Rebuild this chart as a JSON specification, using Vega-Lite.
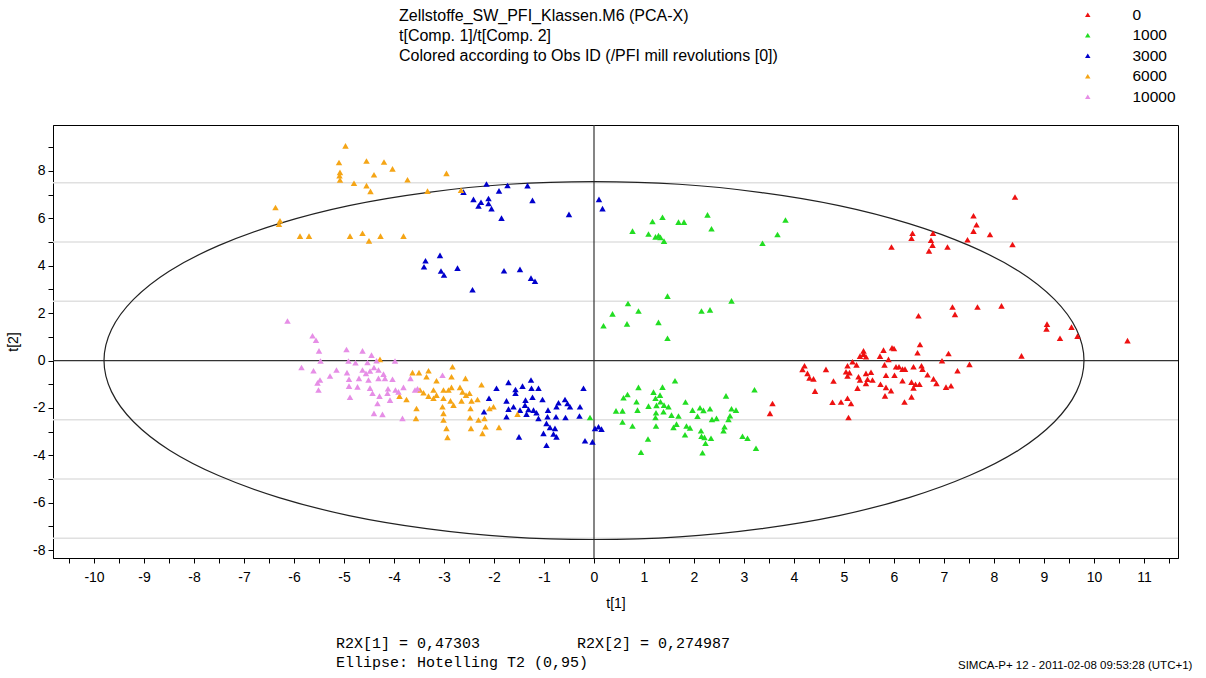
{
  "$schema": "https://vega.github.io/schema/vega-lite/v6.json",
  "autosize": {"type": "none"},
  "padding": {"left": 53, "top": 125, "right": 28, "bottom": 120},
  "width": 1125,
  "height": 433,
  "background": "white",
  "config": {
    "view": {"stroke": "black", "strokeWidth": 1},
    "font": "Liberation Sans",
    "axis": {
      "grid": false,
      "domainColor": "black",
      "tickColor": "black",
      "tickSize": 5,
      "labelFont": "Liberation Sans",
      "labelFontSize": 14,
      "labelColor": "black",
      "labelFlush": false,
      "labelOverlap": false,
      "titleFont": "Liberation Sans",
      "titleFontSize": 14,
      "titleFontWeight": "normal",
      "titleColor": "black",
      "titlePadding": 12
    },
    "axisX": {"labelPadding": 7},
    "axisY": {"labelPadding": 3}
  },
  "title": {
    "text": ["Zellstoffe_SW_PFI_Klassen.M6 (PCA-X)", "t[Comp. 1]/t[Comp. 2]", "Colored according to Obs ID (/PFI mill revolutions [0])"],
    "anchor": "start",
    "frame": "group",
    "dx": 346,
    "offset": -57,
    "font": "Liberation Sans",
    "fontSize": 16,
    "fontWeight": "normal",
    "lineHeight": 20,
    "color": "black"
  },
  "datasets": {
    "pts": [
      {"t1":8.42,"t2":6.90,"rev":"0"},{"t1":7.59,"t2":6.11,"rev":"0"},{"t1":7.65,"t2":5.73,"rev":"0"},{"t1":7.59,"t2":5.46,"rev":"0"},{"t1":7.92,"t2":5.32,"rev":"0"},{"t1":7.47,"t2":5.10,"rev":"0"},{"t1":8.37,"t2":4.90,"rev":"0"},{"t1":6.37,"t2":5.37,"rev":"0"},{"t1":6.35,"t2":5.16,"rev":"0"},{"t1":6.78,"t2":5.37,"rev":"0"},{"t1":6.74,"t2":5.08,"rev":"0"},{"t1":6.77,"t2":4.87,"rev":"0"},{"t1":6.70,"t2":4.63,"rev":"0"},{"t1":7.07,"t2":4.79,"rev":"0"},{"t1":5.95,"t2":4.79,"rev":"0"},{"t1":7.17,"t2":2.26,"rev":"0"},{"t1":7.22,"t2":1.95,"rev":"0"},{"t1":7.67,"t2":2.26,"rev":"0"},{"t1":8.15,"t2":2.31,"rev":"0"},{"t1":6.49,"t2":1.89,"rev":"0"},{"t1":9.06,"t2":1.54,"rev":"0"},{"t1":9.05,"t2":1.34,"rev":"0"},{"t1":9.55,"t2":1.41,"rev":"0"},{"t1":9.67,"t2":1.03,"rev":"0"},{"t1":9.32,"t2":0.94,"rev":"0"},{"t1":10.67,"t2":0.84,"rev":"0"},{"t1":8.55,"t2":0.20,"rev":"0"},
      {"t1":3.57,"t2":-1.81,"rev":"0"},{"t1":3.52,"t2":-2.23,"rev":"0"},{"t1":4.21,"t2":-0.22,"rev":"0"},{"t1":4.17,"t2":-0.37,"rev":"0"},{"t1":4.27,"t2":-0.54,"rev":"0"},{"t1":4.31,"t2":-0.73,"rev":"0"},{"t1":4.39,"t2":-0.77,"rev":"0"},{"t1":4.42,"t2":-1.29,"rev":"0"},{"t1":4.64,"t2":-0.37,"rev":"0"},{"t1":4.79,"t2":-0.86,"rev":"0"},{"t1":4.77,"t2":-1.76,"rev":"0"},{"t1":4.94,"t2":-1.75,"rev":"0"},{"t1":5.07,"t2":-1.59,"rev":"0"},{"t1":5.14,"t2":-1.81,"rev":"0"},{"t1":5.09,"t2":-2.40,"rev":"0"},{"t1":5.07,"t2":-0.22,"rev":"0"},{"t1":5.17,"t2":-0.05,"rev":"0"},{"t1":5.25,"t2":-0.18,"rev":"0"},{"t1":5.04,"t2":-0.47,"rev":"0"},{"t1":5.11,"t2":-0.51,"rev":"0"},{"t1":5.07,"t2":-0.65,"rev":"0"},{"t1":5.29,"t2":-0.68,"rev":"0"},{"t1":5.32,"t2":-0.82,"rev":"0"},{"t1":5.44,"t2":-0.54,"rev":"0"},{"t1":5.54,"t2":-0.49,"rev":"0"},{"t1":5.47,"t2":-0.79,"rev":"0"},{"t1":5.57,"t2":-0.82,"rev":"0"},{"t1":5.44,"t2":-0.96,"rev":"0"},{"t1":5.27,"t2":-1.16,"rev":"0"},{"t1":5.32,"t2":0.19,"rev":"0"},{"t1":5.39,"t2":0.41,"rev":"0"},{"t1":5.44,"t2":0.16,"rev":"0"},{"t1":5.39,"t2":0.27,"rev":"0"},{"t1":5.72,"t2":0.19,"rev":"0"},{"t1":5.79,"t2":0.44,"rev":"0"},{"t1":5.96,"t2":0.54,"rev":"0"},{"t1":6.00,"t2":0.51,"rev":"0"},{"t1":5.89,"t2":0.05,"rev":"0"},{"t1":5.81,"t2":-0.18,"rev":"0"},{"t1":5.84,"t2":-0.62,"rev":"0"},{"t1":5.73,"t2":-1.00,"rev":"0"},{"t1":5.84,"t2":-1.13,"rev":"0"},{"t1":5.94,"t2":-1.27,"rev":"0"},{"t1":5.82,"t2":-1.49,"rev":"0"},{"t1":6.04,"t2":-0.26,"rev":"0"},{"t1":6.10,"t2":-0.26,"rev":"0"},{"t1":6.17,"t2":-0.36,"rev":"0"},{"t1":6.22,"t2":-0.36,"rev":"0"},{"t1":6.01,"t2":-0.62,"rev":"0"},{"t1":6.17,"t2":-0.85,"rev":"0"},{"t1":6.35,"t2":-0.91,"rev":"0"},{"t1":6.39,"t2":-0.26,"rev":"0"},{"t1":6.47,"t2":0.33,"rev":"0"},{"t1":6.52,"t2":0.68,"rev":"0"},{"t1":6.55,"t2":-0.22,"rev":"0"},{"t1":6.57,"t2":-0.36,"rev":"0"},{"t1":6.67,"t2":-0.60,"rev":"0"},{"t1":6.79,"t2":-0.77,"rev":"0"},{"t1":6.85,"t2":-0.96,"rev":"0"},{"t1":6.43,"t2":-1.00,"rev":"0"},{"t1":6.51,"t2":-1.00,"rev":"0"},{"t1":6.39,"t2":-1.15,"rev":"0"},{"t1":6.35,"t2":-1.53,"rev":"0"},{"t1":6.21,"t2":-1.75,"rev":"0"},{"t1":6.96,"t2":-0.01,"rev":"0"},{"t1":7.09,"t2":0.30,"rev":"0"},{"t1":7.27,"t2":-0.43,"rev":"0"},{"t1":7.51,"t2":-0.16,"rev":"0"},{"t1":7.04,"t2":-1.12,"rev":"0"},{"t1":7.14,"t2":-1.06,"rev":"0"},
      {"t1":1.17,"t2":5.87,"rev":"1000"},{"t1":1.37,"t2":6.05,"rev":"1000"},{"t1":0.77,"t2":5.46,"rev":"1000"},{"t1":1.09,"t2":5.34,"rev":"1000"},{"t1":1.23,"t2":5.22,"rev":"1000"},{"t1":1.29,"t2":5.27,"rev":"1000"},{"t1":1.33,"t2":5.20,"rev":"1000"},{"t1":1.40,"t2":5.04,"rev":"1000"},{"t1":1.69,"t2":5.84,"rev":"1000"},{"t1":1.80,"t2":5.84,"rev":"1000"},{"t1":2.27,"t2":6.15,"rev":"1000"},{"t1":2.35,"t2":5.56,"rev":"1000"},{"t1":3.37,"t2":4.95,"rev":"1000"},{"t1":3.67,"t2":5.32,"rev":"1000"},{"t1":3.83,"t2":5.93,"rev":"1000"},{"t1":1.47,"t2":2.72,"rev":"1000"},{"t1":0.68,"t2":2.41,"rev":"1000"},{"t1":0.37,"t2":1.97,"rev":"1000"},{"t1":0.89,"t2":2.09,"rev":"1000"},{"t1":0.19,"t2":1.47,"rev":"1000"},{"t1":0.66,"t2":1.55,"rev":"1000"},{"t1":1.29,"t2":1.61,"rev":"1000"},{"t1":1.47,"t2":0.94,"rev":"1000"},{"t1":2.15,"t2":2.09,"rev":"1000"},{"t1":2.32,"t2":2.14,"rev":"1000"},{"t1":2.75,"t2":2.52,"rev":"1000"},
      {"t1":1.62,"t2":-0.85,"rev":"1000"},{"t1":0.89,"t2":-1.13,"rev":"1000"},{"t1":0.67,"t2":-1.43,"rev":"1000"},{"t1":0.59,"t2":-1.57,"rev":"1000"},{"t1":1.19,"t2":-1.33,"rev":"1000"},{"t1":1.37,"t2":-1.12,"rev":"1000"},{"t1":1.32,"t2":-1.46,"rev":"1000"},{"t1":1.23,"t2":-1.59,"rev":"1000"},{"t1":0.85,"t2":-1.74,"rev":"1000"},{"t1":1.33,"t2":-1.74,"rev":"1000"},{"t1":0.44,"t2":-2.12,"rev":"1000"},{"t1":0.57,"t2":-2.12,"rev":"1000"},{"t1":0.87,"t2":-2.09,"rev":"1000"},{"t1":1.09,"t2":-1.92,"rev":"1000"},{"t1":1.25,"t2":-1.89,"rev":"1000"},{"t1":1.40,"t2":-1.88,"rev":"1000"},{"t1":1.49,"t2":-1.95,"rev":"1000"},{"t1":1.24,"t2":-2.20,"rev":"1000"},{"t1":1.39,"t2":-2.16,"rev":"1000"},{"t1":1.55,"t2":-2.30,"rev":"1000"},{"t1":1.23,"t2":-2.40,"rev":"1000"},{"t1":1.69,"t2":-2.34,"rev":"1000"},{"t1":1.83,"t2":-1.75,"rev":"1000"},{"t1":1.97,"t2":-2.09,"rev":"1000"},{"t1":2.12,"t2":-1.99,"rev":"1000"},{"t1":2.19,"t2":-2.10,"rev":"1000"},{"t1":2.32,"t2":-2.03,"rev":"1000"},{"t1":2.07,"t2":-2.35,"rev":"1000"},{"t1":2.36,"t2":-2.48,"rev":"1000"},{"t1":2.45,"t2":-2.44,"rev":"1000"},{"t1":2.64,"t2":-1.49,"rev":"1000"},{"t1":2.75,"t2":-2.03,"rev":"1000"},{"t1":2.84,"t2":-2.09,"rev":"1000"},{"t1":2.72,"t2":-2.33,"rev":"1000"},{"t1":2.69,"t2":-2.48,"rev":"1000"},{"t1":3.21,"t2":-1.23,"rev":"1000"},{"t1":0.57,"t2":-2.59,"rev":"1000"},{"t1":0.77,"t2":-2.76,"rev":"1000"},{"t1":1.24,"t2":-2.76,"rev":"1000"},{"t1":1.59,"t2":-2.82,"rev":"1000"},{"t1":1.65,"t2":-2.68,"rev":"1000"},{"t1":1.85,"t2":-2.76,"rev":"1000"},{"t1":1.92,"t2":-2.84,"rev":"1000"},{"t1":1.82,"t2":-3.13,"rev":"1000"},{"t1":2.14,"t2":-2.96,"rev":"1000"},{"t1":2.15,"t2":-3.19,"rev":"1000"},{"t1":2.21,"t2":-3.24,"rev":"1000"},{"t1":2.34,"t2":-3.28,"rev":"1000"},{"t1":2.23,"t2":-3.49,"rev":"1000"},{"t1":2.61,"t2":-2.79,"rev":"1000"},{"t1":2.59,"t2":-2.96,"rev":"1000"},{"t1":2.97,"t2":-3.19,"rev":"1000"},{"t1":3.07,"t2":-3.28,"rev":"1000"},{"t1":3.24,"t2":-3.70,"rev":"1000"},{"t1":1.08,"t2":-3.31,"rev":"1000"},{"t1":0.94,"t2":-3.87,"rev":"1000"},{"t1":2.17,"t2":-3.89,"rev":"1000"},{"t1":-0.08,"t2":-2.40,"rev":"1000"},
      {"t1":-2.15,"t2":7.45,"rev":"3000"},{"t1":-2.61,"t2":7.11,"rev":"3000"},{"t1":-1.90,"t2":7.16,"rev":"3000"},{"t1":-1.73,"t2":7.39,"rev":"3000"},{"t1":-1.33,"t2":7.38,"rev":"3000"},{"t1":-2.41,"t2":6.80,"rev":"3000"},{"t1":-2.11,"t2":6.84,"rev":"3000"},{"t1":-2.26,"t2":6.68,"rev":"3000"},{"t1":-2.11,"t2":6.63,"rev":"3000"},{"t1":-2.31,"t2":6.52,"rev":"3000"},{"t1":-2.05,"t2":6.41,"rev":"3000"},{"t1":-1.23,"t2":6.76,"rev":"3000"},{"t1":-1.85,"t2":6.01,"rev":"3000"},{"t1":-0.50,"t2":6.17,"rev":"3000"},{"t1":0.10,"t2":6.80,"rev":"3000"},{"t1":0.17,"t2":6.41,"rev":"3000"},{"t1":-3.37,"t2":4.21,"rev":"3000"},{"t1":-3.40,"t2":3.96,"rev":"3000"},{"t1":-3.08,"t2":4.44,"rev":"3000"},{"t1":-3.06,"t2":3.78,"rev":"3000"},{"t1":-3.00,"t2":3.61,"rev":"3000"},{"t1":-2.73,"t2":3.90,"rev":"3000"},{"t1":-2.43,"t2":2.99,"rev":"3000"},{"t1":-1.80,"t2":3.79,"rev":"3000"},{"t1":-1.48,"t2":3.85,"rev":"3000"},{"t1":-1.26,"t2":3.48,"rev":"3000"},{"t1":-1.18,"t2":3.35,"rev":"3000"},
      {"t1":-1.71,"t2":-0.92,"rev":"3000"},{"t1":-1.95,"t2":-1.17,"rev":"3000"},{"t1":-1.57,"t2":-1.22,"rev":"3000"},{"t1":-1.43,"t2":-1.08,"rev":"3000"},{"t1":-1.26,"t2":-0.82,"rev":"3000"},{"t1":-1.25,"t2":-1.17,"rev":"3000"},{"t1":-1.11,"t2":-1.17,"rev":"3000"},{"t1":-1.57,"t2":-1.38,"rev":"3000"},{"t1":-2.10,"t2":-1.59,"rev":"3000"},{"t1":-1.75,"t2":-1.70,"rev":"3000"},{"t1":-1.37,"t2":-1.67,"rev":"3000"},{"t1":-1.23,"t2":-1.55,"rev":"3000"},{"t1":-1.03,"t2":-1.64,"rev":"3000"},{"t1":-1.38,"t2":-1.88,"rev":"3000"},{"t1":-1.31,"t2":-2.06,"rev":"3000"},{"t1":-1.61,"t2":-1.95,"rev":"3000"},{"t1":-1.71,"t2":-2.05,"rev":"3000"},{"t1":-1.48,"t2":-2.09,"rev":"3000"},{"t1":-1.21,"t2":-2.09,"rev":"3000"},{"t1":-1.15,"t2":-2.20,"rev":"3000"},{"t1":-1.35,"t2":-2.26,"rev":"3000"},{"t1":-1.75,"t2":-2.37,"rev":"3000"},{"t1":-2.20,"t2":-2.16,"rev":"3000"},{"t1":-1.11,"t2":-2.44,"rev":"3000"},{"t1":-0.92,"t2":-2.09,"rev":"3000"},{"t1":-0.75,"t2":-1.95,"rev":"3000"},{"t1":-0.58,"t2":-1.64,"rev":"3000"},{"t1":-0.53,"t2":-1.81,"rev":"3000"},{"t1":-0.71,"t2":-1.78,"rev":"3000"},{"t1":-0.48,"t2":-1.95,"rev":"3000"},{"t1":-0.93,"t2":-2.37,"rev":"3000"},{"t1":-0.76,"t2":-2.37,"rev":"3000"},{"t1":-0.57,"t2":-2.40,"rev":"3000"},{"t1":-0.29,"t2":-2.34,"rev":"3000"},{"t1":-0.28,"t2":-1.95,"rev":"3000"},{"t1":-0.21,"t2":-1.17,"rev":"3000"},{"t1":-0.95,"t2":-2.65,"rev":"3000"},{"t1":-0.88,"t2":-2.82,"rev":"3000"},{"t1":-0.78,"t2":-2.86,"rev":"3000"},{"t1":-1.01,"t2":-3.07,"rev":"3000"},{"t1":-0.81,"t2":-3.10,"rev":"3000"},{"t1":-0.75,"t2":-3.22,"rev":"3000"},{"t1":-0.95,"t2":-3.57,"rev":"3000"},{"t1":-1.50,"t2":-3.22,"rev":"3000"},{"t1":-0.18,"t2":-3.38,"rev":"3000"},{"t1":-0.03,"t2":-3.43,"rev":"3000"},{"t1":0.02,"t2":-2.86,"rev":"3000"},{"t1":0.09,"t2":-2.79,"rev":"3000"},{"t1":0.15,"t2":-2.89,"rev":"3000"},
      {"t1":-4.97,"t2":9.06,"rev":"6000"},{"t1":-5.10,"t2":8.36,"rev":"6000"},{"t1":-4.55,"t2":8.42,"rev":"6000"},{"t1":-4.20,"t2":8.38,"rev":"6000"},{"t1":-4.03,"t2":8.09,"rev":"6000"},{"t1":-5.08,"t2":7.94,"rev":"6000"},{"t1":-5.09,"t2":7.80,"rev":"6000"},{"t1":-4.40,"t2":7.84,"rev":"6000"},{"t1":-5.08,"t2":7.62,"rev":"6000"},{"t1":-2.95,"t2":7.90,"rev":"6000"},{"t1":-3.73,"t2":7.63,"rev":"6000"},{"t1":-4.80,"t2":7.48,"rev":"6000"},{"t1":-4.55,"t2":7.38,"rev":"6000"},{"t1":-4.47,"t2":7.14,"rev":"6000"},{"t1":-3.33,"t2":7.15,"rev":"6000"},{"t1":-2.66,"t2":7.19,"rev":"6000"},{"t1":-6.37,"t2":6.46,"rev":"6000"},{"t1":-6.28,"t2":5.90,"rev":"6000"},{"t1":-6.30,"t2":5.75,"rev":"6000"},{"t1":-5.88,"t2":5.25,"rev":"6000"},{"t1":-5.70,"t2":5.25,"rev":"6000"},{"t1":-4.88,"t2":5.25,"rev":"6000"},{"t1":-4.63,"t2":5.37,"rev":"6000"},{"t1":-4.50,"t2":5.05,"rev":"6000"},{"t1":-4.27,"t2":5.25,"rev":"6000"},{"t1":-3.81,"t2":5.25,"rev":"6000"},
      {"t1":-4.28,"t2":0.05,"rev":"6000"},{"t1":-3.63,"t2":-0.51,"rev":"6000"},{"t1":-3.50,"t2":-0.51,"rev":"6000"},{"t1":-3.31,"t2":-0.43,"rev":"6000"},{"t1":-2.83,"t2":-0.26,"rev":"6000"},{"t1":-3.35,"t2":-0.68,"rev":"6000"},{"t1":-3.15,"t2":-0.85,"rev":"6000"},{"t1":-2.85,"t2":-0.68,"rev":"6000"},{"t1":-2.57,"t2":-0.75,"rev":"6000"},{"t1":-2.25,"t2":-1.02,"rev":"6000"},{"t1":-3.48,"t2":-1.24,"rev":"6000"},{"t1":-3.41,"t2":-1.36,"rev":"6000"},{"t1":-3.31,"t2":-1.50,"rev":"6000"},{"t1":-3.21,"t2":-1.24,"rev":"6000"},{"t1":-3.15,"t2":-1.46,"rev":"6000"},{"t1":-3.01,"t2":-1.24,"rev":"6000"},{"t1":-2.91,"t2":-1.24,"rev":"6000"},{"t1":-2.85,"t2":-1.13,"rev":"6000"},{"t1":-2.68,"t2":-1.13,"rev":"6000"},{"t1":-2.63,"t2":-1.32,"rev":"6000"},{"t1":-2.56,"t2":-1.46,"rev":"6000"},{"t1":-2.49,"t2":-1.38,"rev":"6000"},{"t1":-3.21,"t2":-1.59,"rev":"6000"},{"t1":-3.01,"t2":-1.59,"rev":"6000"},{"t1":-2.87,"t2":-1.70,"rev":"6000"},{"t1":-2.65,"t2":-1.70,"rev":"6000"},{"t1":-2.45,"t2":-1.70,"rev":"6000"},{"t1":-2.81,"t2":-1.88,"rev":"6000"},{"t1":-2.33,"t2":-1.64,"rev":"6000"},{"t1":-3.75,"t2":-1.64,"rev":"6000"},{"t1":-3.55,"t2":-2.02,"rev":"6000"},{"t1":-3.03,"t2":-1.95,"rev":"6000"},{"t1":-3.01,"t2":-2.23,"rev":"6000"},{"t1":-2.47,"t2":-2.02,"rev":"6000"},{"t1":-2.48,"t2":-2.41,"rev":"6000"},{"t1":-2.31,"t2":-2.51,"rev":"6000"},{"t1":-2.01,"t2":-1.95,"rev":"6000"},{"t1":-2.09,"t2":-2.02,"rev":"6000"},{"t1":-3.56,"t2":-2.44,"rev":"6000"},{"t1":-3.01,"t2":-2.51,"rev":"6000"},{"t1":-2.95,"t2":-2.86,"rev":"6000"},{"t1":-2.93,"t2":-3.24,"rev":"6000"},{"t1":-2.46,"t2":-2.86,"rev":"6000"},{"t1":-2.23,"t2":-3.07,"rev":"6000"},{"t1":-2.17,"t2":-2.79,"rev":"6000"},{"t1":-2.19,"t2":-2.44,"rev":"6000"},{"t1":-1.90,"t2":-2.82,"rev":"6000"},{"t1":-1.53,"t2":-2.26,"rev":"6000"},{"t1":-3.89,"t2":-1.50,"rev":"6000"},
      {"t1":-6.13,"t2":1.67,"rev":"10000"},{"t1":-5.63,"t2":1.05,"rev":"10000"},{"t1":-5.56,"t2":0.86,"rev":"10000"},{"t1":-5.50,"t2":0.41,"rev":"10000"},{"t1":-5.47,"t2":-0.02,"rev":"10000"},{"t1":-5.85,"t2":-0.29,"rev":"10000"},{"t1":-5.61,"t2":-0.43,"rev":"10000"},{"t1":-5.48,"t2":-0.82,"rev":"10000"},{"t1":-5.53,"t2":-0.94,"rev":"10000"},{"t1":-5.51,"t2":-1.24,"rev":"10000"},{"t1":-5.28,"t2":-0.65,"rev":"10000"},{"t1":-5.15,"t2":-0.40,"rev":"10000"},{"t1":-4.95,"t2":0.47,"rev":"10000"},{"t1":-4.91,"t2":-0.02,"rev":"10000"},{"t1":-4.77,"t2":-0.09,"rev":"10000"},{"t1":-4.63,"t2":0.41,"rev":"10000"},{"t1":-4.45,"t2":0.23,"rev":"10000"},{"t1":-4.53,"t2":-0.08,"rev":"10000"},{"t1":-4.35,"t2":-0.01,"rev":"10000"},{"t1":-4.40,"t2":-0.29,"rev":"10000"},{"t1":-4.63,"t2":-0.40,"rev":"10000"},{"t1":-4.94,"t2":-0.51,"rev":"10000"},{"t1":-4.90,"t2":-0.79,"rev":"10000"},{"t1":-4.70,"t2":-0.75,"rev":"10000"},{"t1":-4.90,"t2":-1.08,"rev":"10000"},{"t1":-4.73,"t2":-1.11,"rev":"10000"},{"t1":-4.56,"t2":-0.54,"rev":"10000"},{"t1":-4.48,"t2":-0.44,"rev":"10000"},{"t1":-4.31,"t2":-0.40,"rev":"10000"},{"t1":-4.21,"t2":-0.57,"rev":"10000"},{"t1":-4.51,"t2":-0.82,"rev":"10000"},{"t1":-4.31,"t2":-0.75,"rev":"10000"},{"t1":-4.18,"t2":-0.75,"rev":"10000"},{"t1":-3.98,"t2":-0.02,"rev":"10000"},{"t1":-4.03,"t2":-0.79,"rev":"10000"},{"t1":-4.48,"t2":-1.16,"rev":"10000"},{"t1":-4.43,"t2":-1.38,"rev":"10000"},{"t1":-4.29,"t2":-1.50,"rev":"10000"},{"t1":-4.12,"t2":-1.19,"rev":"10000"},{"t1":-4.13,"t2":-1.38,"rev":"10000"},{"t1":-3.97,"t2":-1.24,"rev":"10000"},{"t1":-4.88,"t2":-1.55,"rev":"10000"},{"t1":-4.33,"t2":-1.81,"rev":"10000"},{"t1":-4.40,"t2":-2.23,"rev":"10000"},{"t1":-4.23,"t2":-2.27,"rev":"10000"},{"t1":-4.08,"t2":-1.67,"rev":"10000"},{"t1":-3.91,"t2":-1.32,"rev":"10000"},{"t1":-3.81,"t2":-1.13,"rev":"10000"},{"t1":-3.67,"t2":-0.75,"rev":"10000"},{"t1":-3.58,"t2":-1.24,"rev":"10000"},{"t1":-3.83,"t2":-2.44,"rev":"10000"},{"t1":-3.03,"t2":-0.62,"rev":"10000"},{"t1":-3.53,"t2":-1.19,"rev":"10000"}
    ],
    "ellipse": [
      {"k":0,"t1":9.80,"t2":0},{"k":1,"t1":9.65,"t2":1.31},{"k":2,"t1":9.21,"t2":2.58},{"k":3,"t1":8.49,"t2":3.78},{"k":4,"t1":7.51,"t2":4.85},{"k":5,"t1":6.30,"t2":5.78},{"k":6,"t1":4.90,"t2":6.54},{"k":7,"t1":3.35,"t2":7.09},{"k":8,"t1":1.70,"t2":7.44},{"k":9,"t1":0,"t2":7.55},{"k":10,"t1":-1.70,"t2":7.44},{"k":11,"t1":-3.35,"t2":7.09},{"k":12,"t1":-4.90,"t2":6.54},{"k":13,"t1":-6.30,"t2":5.78},{"k":14,"t1":-7.51,"t2":4.85},{"k":15,"t1":-8.49,"t2":3.78},{"k":16,"t1":-9.21,"t2":2.58},{"k":17,"t1":-9.65,"t2":1.31},{"k":18,"t1":-9.80,"t2":0},{"k":19,"t1":-9.65,"t2":-1.31},{"k":20,"t1":-9.21,"t2":-2.58},{"k":21,"t1":-8.49,"t2":-3.78},{"k":22,"t1":-7.51,"t2":-4.85},{"k":23,"t1":-6.30,"t2":-5.78},{"k":24,"t1":-4.90,"t2":-6.54},{"k":25,"t1":-3.35,"t2":-7.09},{"k":26,"t1":-1.70,"t2":-7.44},{"k":27,"t1":0,"t2":-7.55},{"k":28,"t1":1.70,"t2":-7.44},{"k":29,"t1":3.35,"t2":-7.09},{"k":30,"t1":4.90,"t2":-6.54},{"k":31,"t1":6.30,"t2":-5.78},{"k":32,"t1":7.51,"t2":-4.85},{"k":33,"t1":8.49,"t2":-3.78},{"k":34,"t1":9.21,"t2":-2.58},{"k":35,"t1":9.65,"t2":-1.31}
    ],
    "grid": [{"t2":-7.5},{"t2":-5},{"t2":-2.5},{"t2":2.5},{"t2":5},{"t2":7.5}],
    "zero": [{"t1":0,"t2":0}],
    "mono": [
      {"t1":-5.16,"t2":-11.92,"label":"R2X[1] = 0,47303"},
      {"t1":-0.34,"t2":-11.92,"label":"R2X[2] = 0,274987"},
      {"t1":-5.16,"t2":-12.72,"label":"Ellipse: Hotelling T2 (0,95)"}
    ],
    "stamp": [
      {"t1":7.28,"t2":-12.89,"label":"SIMCA-P+ 12 - 2011-02-08 09:53:28 (UTC+1)"}
    ]
  },
  "layer": [
    {
      "data": {"name": "grid"},
      "mark": {"type": "rule", "color": "#e0e0e0", "strokeWidth": 1.5},
      "encoding": {
        "y": {"field": "t2", "type": "quantitative", "scale": {"domain": [-8.33, 9.94], "nice": false, "zero": false},
          "axis": {"title": "t[2]", "values": [-8,-7,-6,-5,-4,-3,-2,-1,0,1,2,3,4,5,6,7,8,9], "labelExpr": "datum.value % 2 === 0 ? '' + datum.value : ''"}}
      }
    },
    {
      "data": {"name": "zero"},
      "mark": {"type": "rule", "color": "#333333", "strokeWidth": 1.2},
      "encoding": {
        "y": {"field": "t2", "type": "quantitative", "scale": {"domain": [-8.33, 9.94], "nice": false, "zero": false},
          "axis": {"title": "t[2]", "values": [-8,-7,-6,-5,-4,-3,-2,-1,0,1,2,3,4,5,6,7,8,9], "labelExpr": "datum.value % 2 === 0 ? '' + datum.value : ''"}}
      }
    },
    {
      "data": {"name": "zero"},
      "mark": {"type": "rule", "color": "#333333", "strokeWidth": 1.2},
      "encoding": {
        "x": {"field": "t1", "type": "quantitative", "scale": {"domain": [-10.82, 11.68], "nice": false, "zero": false},
          "axis": {"title": "t[1]", "values": [-10.5,-10,-9.5,-9,-8.5,-8,-7.5,-7,-6.5,-6,-5.5,-5,-4.5,-4,-3.5,-3,-2.5,-2,-1.5,-1,-0.5,0,0.5,1,1.5,2,2.5,3,3.5,4,4.5,5,5.5,6,6.5,7,7.5,8,8.5,9,9.5,10,10.5,11,11.5], "labelExpr": "datum.value % 1 === 0 ? '' + datum.value : ''"}}
      }
    },
    {
      "data": {"name": "ellipse"},
      "mark": {"type": "line", "color": "#222222", "strokeWidth": 1.2, "interpolate": "cardinal-closed"},
      "encoding": {
        "x": {"field": "t1", "type": "quantitative", "scale": {"domain": [-10.82, 11.68], "nice": false, "zero": false},
          "axis": {"title": "t[1]", "values": [-10.5,-10,-9.5,-9,-8.5,-8,-7.5,-7,-6.5,-6,-5.5,-5,-4.5,-4,-3.5,-3,-2.5,-2,-1.5,-1,-0.5,0,0.5,1,1.5,2,2.5,3,3.5,4,4.5,5,5.5,6,6.5,7,7.5,8,8.5,9,9.5,10,10.5,11,11.5], "labelExpr": "datum.value % 1 === 0 ? '' + datum.value : ''"}},
        "y": {"field": "t2", "type": "quantitative", "scale": {"domain": [-8.33, 9.94], "nice": false, "zero": false},
          "axis": {"title": "t[2]", "values": [-8,-7,-6,-5,-4,-3,-2,-1,0,1,2,3,4,5,6,7,8,9], "labelExpr": "datum.value % 2 === 0 ? '' + datum.value : ''"}},
        "order": {"field": "k", "type": "quantitative"}
      }
    },
    {
      "data": {"name": "pts"},
      "mark": {"type": "point", "shape": "triangle-up", "filled": true, "opacity": 1, "size": 42},
      "encoding": {
        "x": {"field": "t1", "type": "quantitative", "scale": {"domain": [-10.82, 11.68], "nice": false, "zero": false},
          "axis": {"title": "t[1]", "values": [-10.5,-10,-9.5,-9,-8.5,-8,-7.5,-7,-6.5,-6,-5.5,-5,-4.5,-4,-3.5,-3,-2.5,-2,-1.5,-1,-0.5,0,0.5,1,1.5,2,2.5,3,3.5,4,4.5,5,5.5,6,6.5,7,7.5,8,8.5,9,9.5,10,10.5,11,11.5], "labelExpr": "datum.value % 1 === 0 ? '' + datum.value : ''"}},
        "y": {"field": "t2", "type": "quantitative", "scale": {"domain": [-8.33, 9.94], "nice": false, "zero": false},
          "axis": {"title": "t[2]", "values": [-8,-7,-6,-5,-4,-3,-2,-1,0,1,2,3,4,5,6,7,8,9], "labelExpr": "datum.value % 2 === 0 ? '' + datum.value : ''"}},
        "color": {
          "field": "rev", "type": "nominal",
          "scale": {"domain": ["0","1000","3000","6000","10000"], "range": ["#ee1111","#22dd22","#0000cc","#f5a516","#e68ee6"]},
          "legend": {
            "title": null,
            "orient": "none",
            "legendX": 1027,
            "legendY": -118,
            "symbolType": "triangle-up",
            "symbolSize": 30,
            "symbolStrokeWidth": 0,
            "labelFont": "Liberation Sans",
            "labelFontSize": 15.5,
            "labelColor": "black",
            "labelOffset": 37,
            "rowPadding": 3.5,
            "padding": 0
          }
        }
      }
    },
    {
      "data": {"name": "mono"},
      "mark": {"type": "text", "align": "left", "baseline": "middle", "font": "Liberation Mono", "fontSize": 15, "color": "black"},
      "encoding": {
        "x": {"field": "t1", "type": "quantitative", "scale": {"domain": [-10.82, 11.68], "nice": false, "zero": false},
          "axis": {"title": "t[1]", "values": [-10.5,-10,-9.5,-9,-8.5,-8,-7.5,-7,-6.5,-6,-5.5,-5,-4.5,-4,-3.5,-3,-2.5,-2,-1.5,-1,-0.5,0,0.5,1,1.5,2,2.5,3,3.5,4,4.5,5,5.5,6,6.5,7,7.5,8,8.5,9,9.5,10,10.5,11,11.5], "labelExpr": "datum.value % 1 === 0 ? '' + datum.value : ''"}},
        "y": {"field": "t2", "type": "quantitative", "scale": {"domain": [-8.33, 9.94], "nice": false, "zero": false},
          "axis": {"title": "t[2]", "values": [-8,-7,-6,-5,-4,-3,-2,-1,0,1,2,3,4,5,6,7,8,9], "labelExpr": "datum.value % 2 === 0 ? '' + datum.value : ''"}},
        "text": {"field": "label"}
      }
    },
    {
      "data": {"name": "stamp"},
      "mark": {"type": "text", "align": "left", "baseline": "middle", "font": "Liberation Sans", "fontSize": 11.5, "color": "black"},
      "encoding": {
        "x": {"field": "t1", "type": "quantitative", "scale": {"domain": [-10.82, 11.68], "nice": false, "zero": false},
          "axis": {"title": "t[1]", "values": [-10.5,-10,-9.5,-9,-8.5,-8,-7.5,-7,-6.5,-6,-5.5,-5,-4.5,-4,-3.5,-3,-2.5,-2,-1.5,-1,-0.5,0,0.5,1,1.5,2,2.5,3,3.5,4,4.5,5,5.5,6,6.5,7,7.5,8,8.5,9,9.5,10,10.5,11,11.5], "labelExpr": "datum.value % 1 === 0 ? '' + datum.value : ''"}},
        "y": {"field": "t2", "type": "quantitative", "scale": {"domain": [-8.33, 9.94], "nice": false, "zero": false},
          "axis": {"title": "t[2]", "values": [-8,-7,-6,-5,-4,-3,-2,-1,0,1,2,3,4,5,6,7,8,9], "labelExpr": "datum.value % 2 === 0 ? '' + datum.value : ''"}},
        "text": {"field": "label"}
      }
    }
  ]
}
